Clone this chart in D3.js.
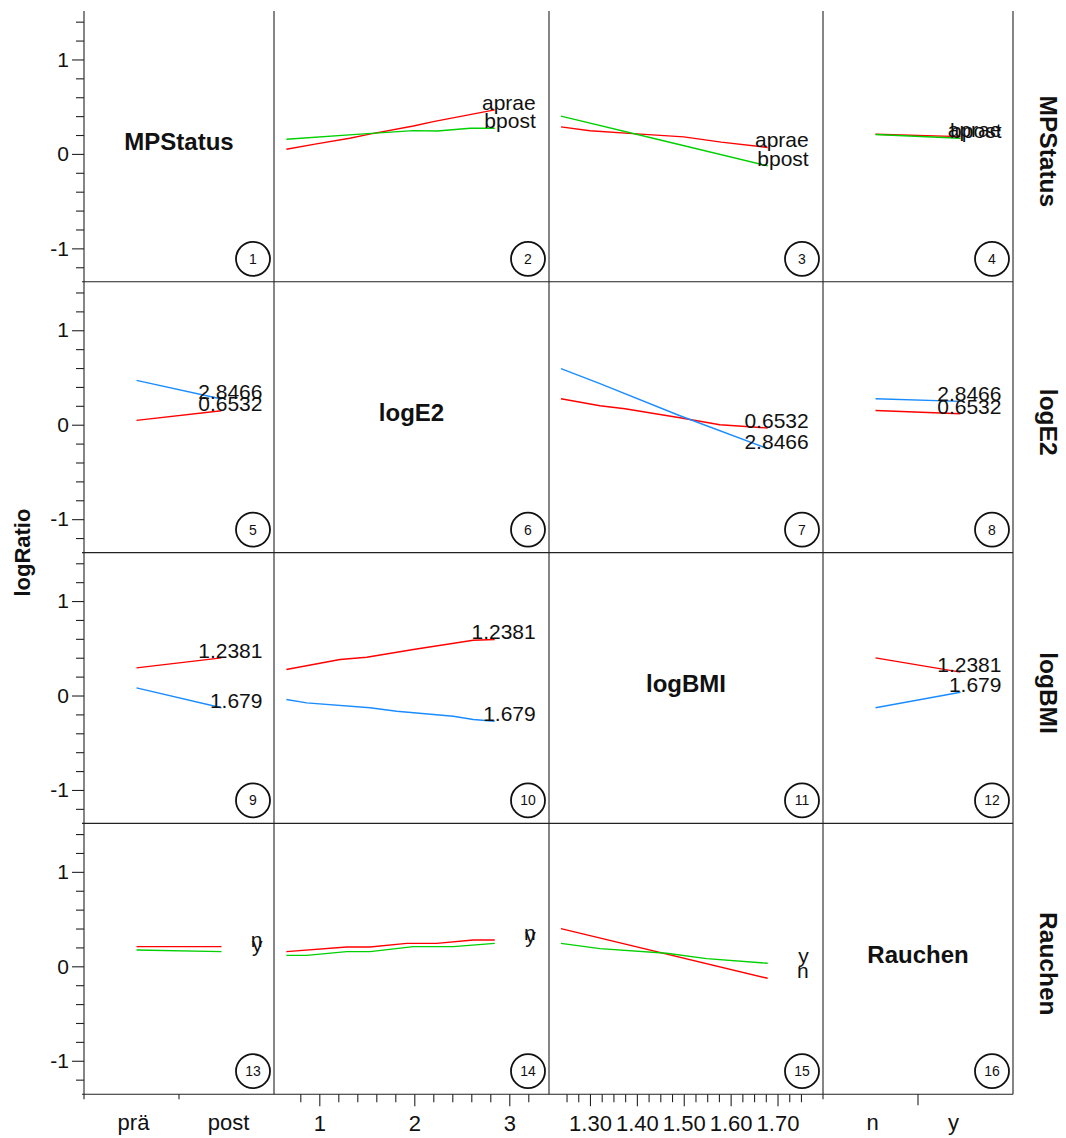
<!DOCTYPE html>
<html><head><meta charset="utf-8">
<script src="https://cdn.jsdelivr.net/npm/d3@7"></script>
<style>
body{margin:0;background:#fff}
svg{display:block;font-family:"Liberation Sans",Arial,Helvetica,sans-serif}
</style></head><body>
<svg id="chart" width="1066" height="1138"></svg>
<script>
// ---- variables and tick labels ----
const varNames = ["MPStatus", "logE2", "logBMI", "Rauchen"];
const mpLevels = ["prä", "post"];
const smokeLevels = ["n", "y"];
const yTicks = [-1, 0, 1];
const e2Ticks = [1, 2, 3];
const bmiTicks = [1.30, 1.40, 1.50, 1.60, 1.70];

// ---- line groups (levels / values of the conditioning variable) ----
const mpGroups = ["aprae", "bpost"];
const e2Groups = ["0.6532", "2.8466"];
const bmiGroups = ["1.2381", "1.679"];
const smokeGroups = ["n", "y"];

// ---- effect curves: [x, logRatio] ----
// row MPStatus
const mpE2Aprae = [[0.6532, 0.050], [0.97, 0.106], [1.32, 0.166], [1.53, 0.210], [1.99, 0.296], [2.20, 0.342], [2.8466, 0.466]];
const mpE2Bpost = [[0.6532, 0.155], [1.43, 0.210], [1.99, 0.247], [2.24, 0.243], [2.59, 0.272], [2.8466, 0.272]];
const mpBmiAprae = [[1.2381, 0.286], [1.30, 0.245], [1.40, 0.212], [1.50, 0.180], [1.58, 0.125], [1.679, 0.068]];
const mpBmiBpost = [[1.2381, 0.400], [1.45, 0.147], [1.679, -0.127]];
const mpSmokeAprae = [["n", 0.208], ["y", 0.183]];
const mpSmokeBpost = [["n", 0.205], ["y", 0.166]];
// row logE2
const e2MpLow = [["prä", 0.046], ["post", 0.148]];
const e2MpHigh = [["prä", 0.469], ["post", 0.272]];
const e2BmiLow = [[1.2381, 0.275], [1.3213, 0.201], [1.3746, 0.169], [1.4919, 0.074], [1.577, 0.000], [1.679, -0.035]];
const e2BmiHigh = [[1.2381, 0.593], [1.3213, 0.434], [1.4919, 0.095], [1.679, -0.254]];
const e2SmokeLow = [["n", 0.151], ["y", 0.116]];
const e2SmokeHigh = [["n", 0.275], ["y", 0.247]];
// row logBMI
const bmiMpLow = [["prä", 0.293], ["post", 0.399]];
const bmiMpHigh = [["prä", 0.081], ["post", -0.130]];
const bmiE2Low = [[0.6532, 0.275], [1.218, 0.381], [1.499, 0.405], [1.99, 0.487], [2.62, 0.585], [2.8466, 0.593]];
const bmiE2High = [[0.6532, -0.042], [0.867, -0.078], [1.534, -0.130], [1.815, -0.166], [2.41, -0.219], [2.621, -0.254], [2.8466, -0.272]];
const bmiSmokeLow = [["n", 0.399], ["y", 0.247]];
const bmiSmokeHigh = [["n", -0.130], ["y", 0.035]];
// row Rauchen
const smokeMpN = [["prä", 0.208], ["post", 0.208]];
const smokeMpY = [["prä", 0.173], ["post", 0.155]];
const smokeE2N = [[0.6532, 0.155], [1.288, 0.204], [1.534, 0.204], [1.92, 0.243], [2.236, 0.243], [2.621, 0.279], [2.8466, 0.279]];
const smokeE2Y = [[0.6532, 0.116], [0.867, 0.116], [1.288, 0.155], [1.534, 0.155], [1.99, 0.208], [2.41, 0.208], [2.8466, 0.243]];
const smokeBmiN = [[1.2381, 0.399], [1.679, -0.127]];
const smokeBmiY = [[1.2381, 0.243], [1.3213, 0.187], [1.4635, 0.138], [1.5488, 0.081], [1.679, 0.032]];

// panels: row = conditioning variable, col = x variable
const panels = [
  {row: 0, col: 1, lines: [[mpGroups[0], mpE2Aprae], [mpGroups[1], mpE2Bpost]]},
  {row: 0, col: 2, lines: [[mpGroups[0], mpBmiAprae], [mpGroups[1], mpBmiBpost]]},
  {row: 0, col: 3, lines: [[mpGroups[0], mpSmokeAprae], [mpGroups[1], mpSmokeBpost]]},
  {row: 1, col: 0, lines: [[e2Groups[0], e2MpLow], [e2Groups[1], e2MpHigh]]},
  {row: 1, col: 2, lines: [[e2Groups[0], e2BmiLow], [e2Groups[1], e2BmiHigh]]},
  {row: 1, col: 3, lines: [[e2Groups[0], e2SmokeLow], [e2Groups[1], e2SmokeHigh]]},
  {row: 2, col: 0, lines: [[bmiGroups[0], bmiMpLow], [bmiGroups[1], bmiMpHigh]]},
  {row: 2, col: 1, lines: [[bmiGroups[0], bmiE2Low], [bmiGroups[1], bmiE2High]]},
  {row: 2, col: 3, lines: [[bmiGroups[0], bmiSmokeLow], [bmiGroups[1], bmiSmokeHigh]]},
  {row: 3, col: 0, lines: [[smokeGroups[0], smokeMpN], [smokeGroups[1], smokeMpY]]},
  {row: 3, col: 1, lines: [[smokeGroups[0], smokeE2N], [smokeGroups[1], smokeE2Y]]},
  {row: 3, col: 2, lines: [[smokeGroups[0], smokeBmiN], [smokeGroups[1], smokeBmiY]]}
];

// ---- layout ----
const svg = d3.select("#chart");
const colX = [84, 274, 549, 823, 1013];
const top0 = 11, rowH = 270.8;
const bottom = top0 + 4 * rowH;
const RED = "#ff0000", GREEN = "#00d000", BLUE = "#1a8cff";
const rowColors = [[RED, GREEN], [RED, BLUE], [RED, BLUE], [RED, GREEN]];
const FONT = "Liberation Sans, Arial, sans-serif";

const yScales = d3.range(4).map(r =>
  d3.scaleLinear().domain([-1.354, 1.513]).range([top0 + (r + 1) * rowH, top0 + r * rowH]));

const xScales = [
  d3.scalePoint().domain(mpLevels).range([colX[0], colX[1]]).padding(0.618),
  d3.scaleLinear().domain([0.523, 3.418]).range([colX[1], colX[2]]),
  d3.scaleLinear().domain([1.2126, 1.797]).range([colX[2], colX[3]]),
  d3.scalePoint().domain(smokeLevels).range([colX[3], colX[4]]).padding(0.618)
];

// ---- frame lines ----
const frame = svg.append("g").attr("stroke", "#222").attr("stroke-width", 1.1).attr("fill", "none");
frame.append("line").attr("x1", colX[0]).attr("x2", colX[0]).attr("y1", top0).attr("y2", bottom);
colX.slice(1).forEach(x =>
  frame.append("line").attr("x1", x).attr("x2", x).attr("y1", top0).attr("y2", bottom));
d3.range(1, 5).forEach(r =>
  frame.append("line").attr("x1", colX[0] - 2).attr("x2", colX[4]).attr("y1", top0 + r * rowH).attr("y2", top0 + r * rowH));

// ---- y axes (one per row) ----
const yMinor = d3.range(-12, 15, 2).map(v => v / 10).filter(v => !yTicks.includes(v));
yScales.forEach(ys => {
  const gMin = svg.append("g").attr("transform", `translate(${colX[0]},0)`)
    .call(d3.axisLeft(ys).tickValues(yMinor).tickSize(8).tickFormat(""));
  const gMaj = svg.append("g").attr("transform", `translate(${colX[0]},0)`)
    .call(d3.axisLeft(ys).tickValues(yTicks).tickSize(12).tickPadding(3).tickFormat(d => String(d)));
  [gMin, gMaj].forEach(g => {
    g.select(".domain").remove();
    g.selectAll("line").attr("stroke", "#222").attr("stroke-width", 1.1);
    g.selectAll("text").attr("font-size", 21).attr("font-family", FONT).attr("fill", "#111");
  });
});

// ---- x axes ----
function styleAxis(g) {
  g.select(".domain").remove();
  g.selectAll("line").attr("stroke", "#222").attr("stroke-width", 1.1);
  g.selectAll("text").attr("font-size", 22).attr("font-family", FONT).attr("fill", "#111");
}
// col 2: logE2
const e2Minor = d3.range(8, 34, 2).map(v => v / 10).filter(v => !e2Ticks.includes(v));
styleAxis(svg.append("g").attr("transform", `translate(0,${bottom})`)
  .call(d3.axisBottom(xScales[1]).tickValues(e2Minor).tickSize(8).tickFormat("")));
styleAxis(svg.append("g").attr("transform", `translate(0,${bottom})`)
  .call(d3.axisBottom(xScales[1]).tickValues(e2Ticks).tickSize(12).tickPadding(9).tickFormat(d3.format("d"))));
// col 3: logBMI
const bmiMinor = d3.range(50, 71).map(v => v * 0.025).filter(v => Math.abs(Math.round(v * 10) - v * 10) > 1e-6);
styleAxis(svg.append("g").attr("transform", `translate(0,${bottom})`)
  .call(d3.axisBottom(xScales[2]).tickValues(bmiMinor).tickSize(8).tickFormat("")));
styleAxis(svg.append("g").attr("transform", `translate(0,${bottom})`)
  .call(d3.axisBottom(xScales[2]).tickValues(bmiTicks).tickSize(12).tickPadding(9).tickFormat(d3.format(".2f"))));
// categorical columns: ticks at category boundaries, labels under each category
[[0, 5, 0.5, 2], [3, 11, 0.673, -5]].forEach(([c, midLen, pad, shift]) => {
  const labelScale = d3.scalePoint().domain(xScales[c].domain()).range([colX[c], colX[c + 1]]).padding(pad);
  const mid = (colX[c] + colX[c + 1]) / 2;
  const t = svg.append("g").attr("stroke", "#222").attr("stroke-width", 1.1);
  t.append("line").attr("x1", colX[c]).attr("x2", colX[c]).attr("y1", bottom).attr("y2", bottom + 5);
  t.append("line").attr("x1", mid).attr("x2", mid).attr("y1", bottom).attr("y2", bottom + midLen);
  svg.append("g").selectAll("text").data(labelScale.domain()).join("text")
    .attr("x", d => labelScale(d) + shift).attr("y", bottom + 36)
    .attr("text-anchor", "middle").attr("font-size", 22).attr("fill", "#111")
    .text(d => d);
});

// ---- effect lines ----
const lineGen = (xs, ys) => d3.line().x(d => xs(d[0])).y(d => ys(d[1]));
panels.forEach(p => {
  const xs = xScales[p.col], ys = yScales[p.row];
  const g = svg.append("g");
  p.lines.forEach(([label, pts], i) => {
    g.append("path").datum(pts)
      .attr("d", lineGen(xs, ys))
      .attr("fill", "none").attr("stroke", rowColors[p.row][i]).attr("stroke-width", 1.4);
  });
  p.lines.forEach(([label, pts]) => {
    const last = pts[pts.length - 1];
    g.append("text")
      .attr("x", xs(last[0]) + 41).attr("y", ys(last[1]))
      .attr("text-anchor", "end").attr("font-size", 21).attr("fill", "#111")
      .text(label);
  });
});

// ---- diagonal variable names ----
varNames.forEach((name, i) => {
  svg.append("text")
    .attr("x", (colX[i] + colX[i + 1]) / 2).attr("y", top0 + (i + 0.5) * rowH + 4)
    .attr("text-anchor", "middle").attr("font-size", 24).attr("font-weight", "bold").attr("fill", "#111")
    .text(name);
});

// ---- row strip labels on the right ----
varNames.forEach((name, i) => {
  svg.append("text")
    .attr("transform", `translate(1040,${top0 + (i + 0.5) * rowH + 5}) rotate(90)`)
    .attr("text-anchor", "middle").attr("font-size", 24.5).attr("font-weight", "bold").attr("fill", "#111")
    .text(name);
});

// ---- y title ----
svg.append("text")
  .attr("transform", `translate(30,${top0 + 2 * rowH}) rotate(-90)`)
  .attr("text-anchor", "middle").attr("font-size", 22).attr("font-weight", "bold").attr("fill", "#111")
  .text("logRatio");

// ---- panel numbers ----
d3.range(4).forEach(r => d3.range(4).forEach(c => {
  const cx = colX[c + 1] - 21, cy = top0 + (r + 1) * rowH - 23;
  svg.append("circle").attr("cx", cx).attr("cy", cy).attr("r", 17)
    .attr("fill", "none").attr("stroke", "#111").attr("stroke-width", 1.8);
  svg.append("text").attr("x", cx).attr("y", cy + 5)
    .attr("text-anchor", "middle").attr("font-size", 14).attr("fill", "#111")
    .text(r * 4 + c + 1);
}));
</script>
</body></html>
